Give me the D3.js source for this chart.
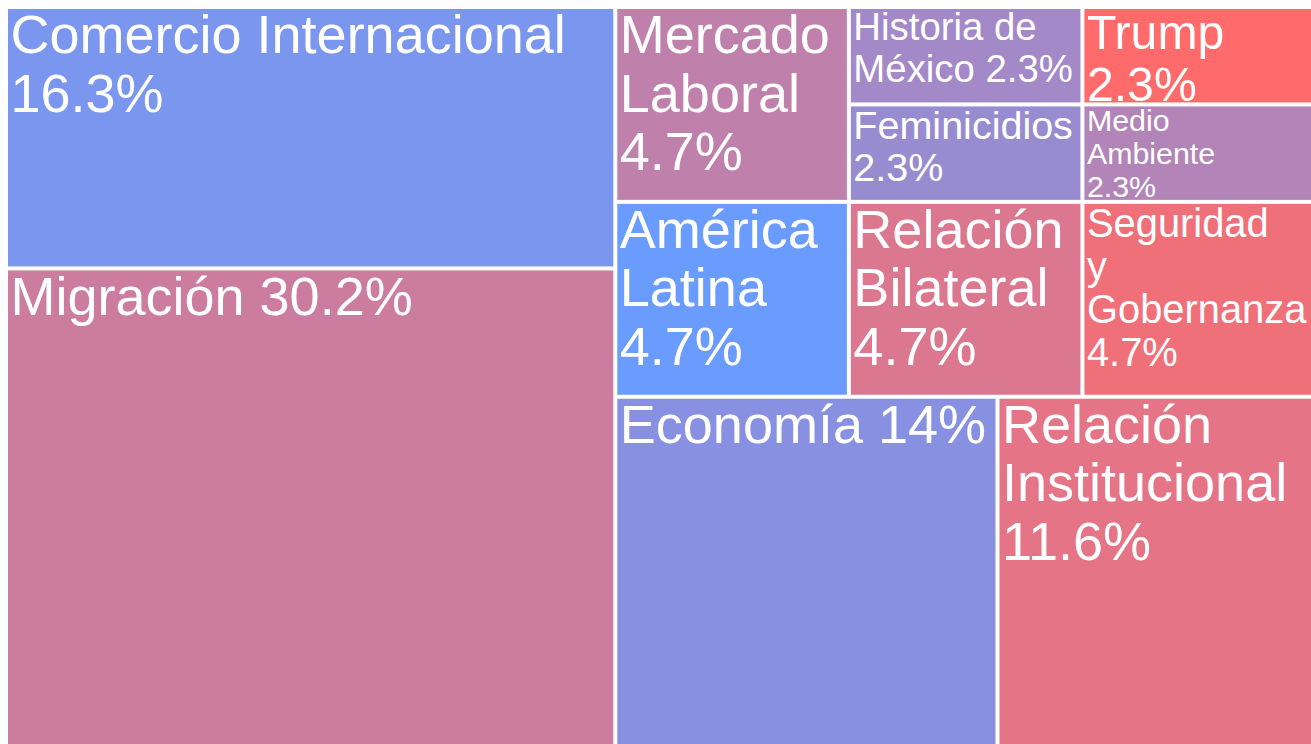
<!DOCTYPE html>
<html>
<head>
<meta charset="utf-8">
<script src="https://cdn.jsdelivr.net/npm/d3@7"></script>
<style>
  body { margin: 0; background: #fff; }
  svg { display: block; }
</style>
</head>
<body>
<div id="graphContainer"></div>
<script>
// topics, in the order the treemap was built (not sorted by size)
const categories = ['Migración', 'Comercio Internacional', 'Economía', 'Relación Institucional', 'América Latina', 'Mercado Laboral', 'Relación Bilateral', 'Feminicidios', 'Historia de México', 'Seguridad y Gobernanza', 'Medio Ambiente', 'Trump']
// mentions per topic (43 in total)
const counts = [13, 7, 6, 5, 2, 2, 2, 1, 1, 2, 1, 1]
// colour score, 0 = blue end, 1 = red end
const scores = [0.65, 0.11, 0.2, 0.82, 0, 0.57, 0.76, 0.31, 0.38, 0.9, 0.48, 1]
// label lines, '|' is a line break and {p} the share of the total
const labelTemplates = [
  'Migración {p}',
  'Comercio Internacional|{p}',
  'Economía {p}',
  'Relación|Institucional|{p}',
  'América|Latina|{p}',
  'Mercado|Laboral|{p}',
  'Relación|Bilateral|{p}',
  'Feminicidios|{p}',
  'Historia de|México {p}',
  'Seguridad|y|Gobernanza|{p}',
  'Medio|Ambiente|{p}',
  'Trump|{p}',
]

let svgWidth = 1311,
  svgHeight = 744
let margin = { top: 9, left: 8 }
let width = 1306,
  height = 743
let baseFont = 54

let svg = d3
  .select('#graphContainer')
  .append('svg')
  .attr('width', svgWidth)
  .attr('height', svgHeight)

let g = svg
  .append('g')
  .attr('transform', 'translate(' + margin.left + ',' + margin.top + ')')

let total = d3.sum(counts)
let fmt = d3.format('.1~%')
let color = d3.scaleLinear().domain([0, 1]).range(['#6a9bff', '#ff6b6b'])

let root = d3
  .hierarchy({
    children: categories.map((c, i) => {
      return { name: c, value: counts[i], score: scores[i], label: labelTemplates[i] }
    }),
  })
  .sum((d) => d.value || 0)

d3.treemap().size([width, height]).tile(d3.treemapSquarify).paddingInner(4)(root)

// the layout is drawn upside down: first tiles at the bottom
let yFlip = d3.scaleLinear().domain([0, height]).range([height, 0])

let cell = g
  .selectAll('g.cell')
  .data(root.leaves())
  .join('g')
  .attr('class', 'cell')
  .attr('transform', (d) => 'translate(' + d.x0 + ',' + yFlip(d.y1) + ')')

cell
  .append('clipPath')
  .attr('id', (d, i) => 'clip-' + i)
  .append('rect')
  .attr('width', (d) => d.x1 - d.x0)
  .attr('height', (d) => d.y1 - d.y0)

cell
  .append('rect')
  .attr('width', (d) => d.x1 - d.x0)
  .attr('height', (d) => d.y1 - d.y0)
  .attr('fill', (d) => color(d.data.score))

let text = cell
  .append('text')
  .attr('clip-path', (d, i) => 'url(#clip-' + i + ')')
  .attr('fill', '#fff')
  .style('font-family', '"Liberation Sans", Arial, sans-serif')
  .style('font-size', baseFont + 'px')

// shrink each label until it fits its tile
text.each(function (d) {
  let lines = d.data.label.replace('{p}', fmt(d.value / total)).split('|')
  let t = d3.select(this)
  let spans = lines.map((l) => t.append('tspan').attr('x', 2.5).text(l))
  let maxW = d3.max(spans, (s) => s.node().getComputedTextLength())
  let w = d.x1 - d.x0,
    h = d.y1 - d.y0
  let textH = (0.8 + (lines.length - 1) * 1.14) * baseFont
  let scale = Math.min(1, (w - 10) / maxW, h / textH)
  let fs = baseFont * scale
  t.style('font-size', fs + 'px')
  spans.forEach((s, i) => {
    s.attr('y', 0.82 * fs + i * 1.08 * fs)
  })
})
</script>
</body>
</html>
